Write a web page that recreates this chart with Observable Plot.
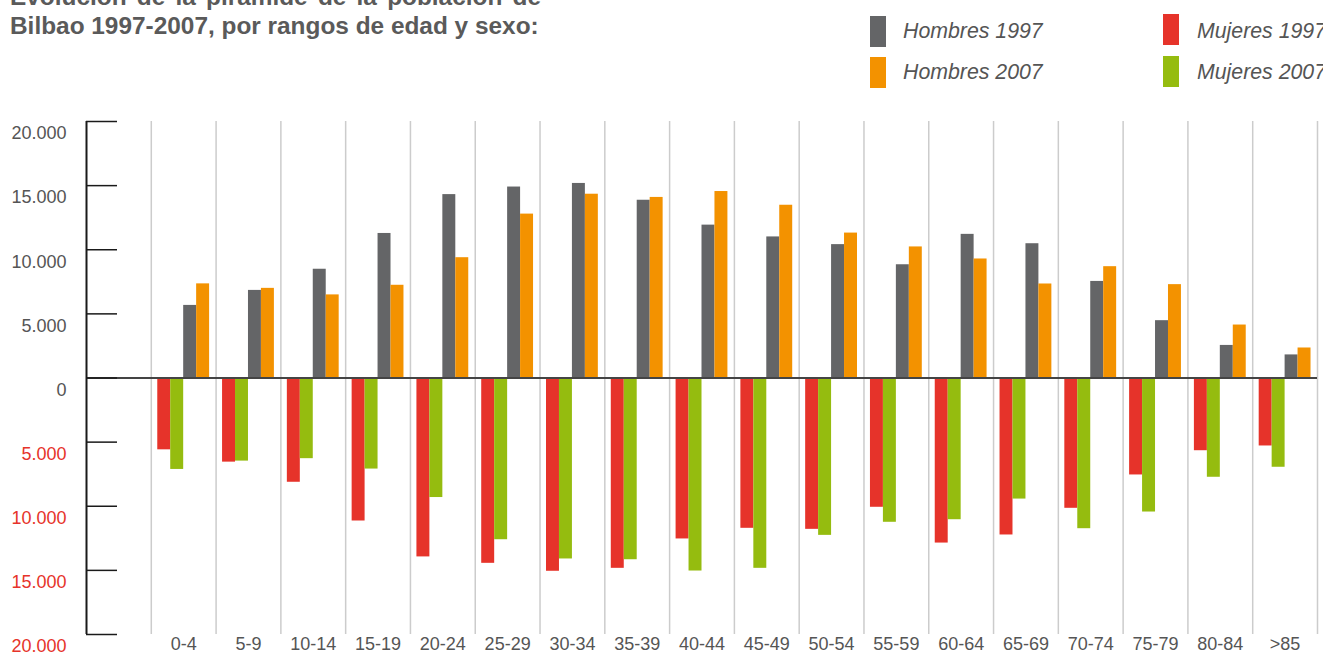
<!DOCTYPE html>
<html>
<head>
<meta charset="utf-8">
<script src="https://cdn.jsdelivr.net/npm/d3@7"></script>
<script src="https://cdn.jsdelivr.net/npm/@observablehq/plot@0.6"></script>
<style>
  html, body { margin: 0; padding: 0; background: #fff; overflow: hidden; }
  body { position: relative; width: 1323px; height: 652px; font-family: "Liberation Sans", Arial, sans-serif; }
  #chart { position: absolute; left: 0; top: 0; z-index: 0; }
  .title { position: absolute; z-index: 2; left: 10px; width: 531px; font-weight: bold; font-size: 24.4px; line-height: 29px; color: #5a5a5a; white-space: nowrap; }
  .t1 { top: -18px; text-align: justify; text-align-last: justify; white-space: normal; }
  .t2 { top: 11px; }
  .leg { position: absolute; z-index: 2; font-style: italic; font-size: 21.3px; color: #555; white-space: nowrap; line-height: 1; }
  .sw { position: absolute; z-index: 2; width: 16px; height: 31px; }
</style>
</head>
<body>
<div id="chart"></div>
<div class="title t1">Evolución de la pirámide de la población de</div>
<div class="title t2">Bilbao 1997-2007, por rangos de edad y sexo:</div>
<div id="legend"></div>
<script>
// ---- data ----
const ages = ["0-4","5-9","10-14","15-19","20-24","25-29","30-34","35-39","40-44","45-49","50-54","55-59","60-64","65-69","70-74","75-79","80-84",">85"];
const hombres1997 = [5660, 6830, 8480, 11270, 14300, 14890, 15170, 13860, 11920, 11000, 10400, 8830, 11200, 10470, 7530, 4470, 2540, 1800];
const hombres2007 = [7340, 6990, 6480, 7230, 9380, 12780, 14330, 14080, 14540, 13470, 11300, 10220, 9280, 7330, 8680, 7280, 4130, 2340];
const mujeres1997 = [5600, 6560, 8130, 11150, 13950, 14450, 15070, 14840, 12550, 11720, 11800, 10080, 12870, 12240, 10160, 7560, 5670, 5300];
const mujeres2007 = [7130, 6480, 6290, 7100, 9320, 12610, 14110, 14170, 15050, 14840, 12270, 11250, 11050, 9440, 11750, 10450, 7740, 6960];
const seriesNames = ["Mujeres 1997", "Mujeres 2007", "Hombres 1997", "Hombres 2007"];
const seriesColors = ["#e6332a", "#95bc0f", "#646567", "#f39200"];
const yTicksPos = [0, 5000, 10000, 15000, 20000];
const yTicksNeg = [-5000, -10000, -15000, -20000];

// ---- layout ----
const W = 1323, H = 660, mL = 86, mR = 6, mT = 121, mB = 26;
const xDomain = ["", ...ages];
const step = (W - mL - mR) / xDomain.length;
const grey = "#555555", red = "#e6332a";

const rows = ages.map((a, i) => ({
  age: a,
  "Mujeres 1997": -mujeres1997[i],
  "Mujeres 2007": -mujeres2007[i],
  "Hombres 1997": hombres1997[i],
  "Hombres 2007": hombres2007[i]
}));

const fmt = d3.formatLocale({decimal: ",", thousands: ".", grouping: [3], currency: ["", ""]}).format(",");
const lab = d => fmt(Math.abs(d));

const barMarks = seriesNames.map((s, k) => Plot.barY(rows, {
  x: "age", y: s, fill: seriesColors[k],
  insetLeft: step * (0.1 + 0.2 * k), insetRight: step * (0.7 - 0.2 * k)
}));

const plot = Plot.plot({
  width: W, height: H,
  marginLeft: mL, marginRight: mR, marginTop: mT, marginBottom: mB,
  x: {type: "band", domain: xDomain, padding: 0, round: false, axis: null},
  y: {domain: [-20000, 20000], axis: null, nice: false},
  style: {fontFamily: "'Liberation Sans', Arial, sans-serif", fontSize: "18px", background: "white", overflow: "visible"},
  marks: [
    Plot.ruleX(ages, {x: d => d, dx: -step / 2, stroke: "#cccccc", strokeWidth: 1.5}),
    Plot.ruleX([ages[ages.length - 1]], {x: d => d, dx: step / 2, stroke: "#cccccc", strokeWidth: 1.5}),
    ...barMarks,
    Plot.ruleY([0], {stroke: "#444444", strokeWidth: 2}),
    Plot.ruleX([""], {x: d => d, dx: -step / 2, stroke: "#1a1a1a", strokeWidth: 2}),
    Plot.tickY([...yTicksPos, ...yTicksNeg], {y: d => d, x: () => "", insetRight: step - 31, stroke: "#1a1a1a", strokeWidth: 1.5}),
    Plot.text(yTicksPos, {y: d => d, text: lab, frameAnchor: "left", textAnchor: "end", dx: -20, dy: 12, fill: grey, fontSize: 18}),
    Plot.text(yTicksNeg, {y: d => d, text: lab, frameAnchor: "left", textAnchor: "end", dx: -20, dy: 12, fill: red, fontSize: 18}),
    Plot.text(ages, {x: d => d, text: d => d, frameAnchor: "bottom", lineAnchor: "top", dy: 3, fill: grey, fontSize: 18})
  ]
});
document.getElementById("chart").appendChild(plot);

// ---- legend ----
const legendItems = [
  {name: "Hombres 1997", color: seriesColors[2], sx: 870, sy: 16, tx: 903, ty: 21},
  {name: "Hombres 2007", color: seriesColors[3], sx: 870, sy: 57, tx: 903, ty: 62},
  {name: "Mujeres 1997", color: seriesColors[0], sx: 1163, sy: 14, tx: 1197, ty: 21},
  {name: "Mujeres 2007", color: seriesColors[1], sx: 1163, sy: 56, tx: 1197, ty: 62}
];
const lg = document.getElementById("legend");
legendItems.forEach(it => {
  const sw = document.createElement("div");
  sw.className = "sw";
  sw.style.left = it.sx + "px"; sw.style.top = it.sy + "px"; sw.style.background = it.color;
  lg.appendChild(sw);
  const t = document.createElement("div");
  t.className = "leg";
  t.style.left = it.tx + "px"; t.style.top = it.ty + "px";
  t.textContent = it.name;
  lg.appendChild(t);
});
</script>
</body>
</html>
